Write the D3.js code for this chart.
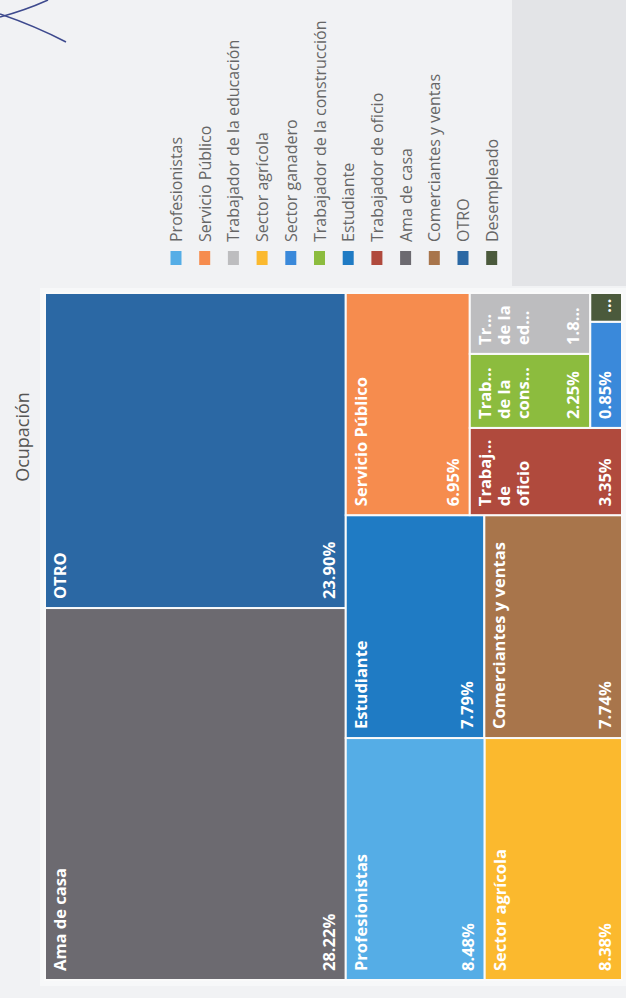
<!DOCTYPE html>
<html><head><meta charset="utf-8">
<script src="https://cdn.jsdelivr.net/npm/d3@7"></script>
<style>
html,body{margin:0;padding:0;background:#f1f2f4;}
svg{display:block;}
</style></head><body>
<svg id="c" width="626" height="998"></svg>
<script>
// ---- data ----
const title = "Ocupación";
const categories = ["Profesionistas","Servicio Público","Trabajador de la educación","Sector agrícola","Sector ganadero","Trabajador de la construcción","Estudiante","Trabajador de oficio","Ama de casa","Comerciantes y ventas","OTRO","Desempleado"];
const values = [8.48, 6.95, 1.85, 8.38, 0.85, 2.25, 7.79, 3.35, 28.22, 7.74, 23.90, 0.23];
const colors = ["#55ade6","#f68c4e","#bdbdbf","#fbb92e","#3a89da","#8cbc3e","#1f7bc4","#b04a3d","#6c6a70","#a8754b","#2b68a4","#4b5a3c"];

// ---- setup ----
const svg = d3.select("#c");
svg.append("rect").attr("x",512).attr("y",0).attr("width",114).attr("height",286).attr("fill","#e3e4e7");
svg.append("rect").attr("x",40).attr("y",288).attr("width",586).attr("height",698).attr("fill","#f7f8f9");
// pen marks on the photographed page
svg.append("path").attr("d","M0,17 Q26,10 48,0").attr("fill","none").attr("stroke","#3e4a8e").attr("stroke-width",1.6);
svg.append("path").attr("d","M0,14 Q35,26 66,42").attr("fill","none").attr("stroke","#3e4a8e").attr("stroke-width",1.6);

// chart drawn in its own frame, rotated a quarter turn like the photo
const W = 998;
const g = svg.append("g").attr("transform", `translate(0,${W}) rotate(-90)`);

const color = d3.scaleOrdinal().domain(categories).range(colors);

// title
g.append("text").attr("x", 561).attr("y", 22)
  .attr("text-anchor","middle").attr("dominant-baseline","central")
  .attr("font-family","'Open Sans', sans-serif").attr("font-size",18).attr("fill","#555")
  .text(title);

// treemap tiling: squarified rows, first row laid along the top
function tile(parent, x0, y0, x1, y1) {
  const nodes = parent.children, n = nodes.length;
  let value = parent.value, i0 = 0, first = true;
  while (i0 < n) {
    const dx = x1 - x0, dy = y1 - y0;
    const horiz = first || dx < dy;
    const side = horiz ? dx : dy, depth = horiz ? dy : dx;
    let sum = 0, best = Infinity, i1 = i0;
    while (i1 < n) {
      const s = sum + nodes[i1].value;
      const t = depth * s / value;
      let worst = 0;
      for (let k = i0; k <= i1; k++) {
        const l = side * nodes[k].value / s;
        worst = Math.max(worst, l / t, t / l);
      }
      if (worst > best) break;
      best = worst; sum = s; i1++;
    }
    const row = {children: nodes.slice(i0, i1), value: sum};
    if (horiz) { const yy = i1 >= n ? y1 : y0 + dy * sum / value; d3.treemapDice(row, x0, y0, x1, yy); y0 = yy; }
    else { const xx = i1 >= n ? x1 : x0 + dx * sum / value; d3.treemapSlice(row, x0, y0, xx, y1); x0 = xx; }
    value -= sum; i0 = i1; first = false;
  }
}

const rows = categories.map((c, i) => ({name: c, value: values[i]}));
const root = d3.hierarchy({children: rows}).sum(d => d.value || 0).sort((a, b) => b.value - a.value);
d3.treemap().size([687, 577]).tile(tile)(root);

const tm = g.append("g").attr("transform","translate(18,45)");
const leaves = root.leaves();
tm.selectAll("rect").data(leaves).join("rect")
  .attr("x", d => d.x0).attr("y", d => d.y0)
  .attr("width", d => d.x1 - d.x0).attr("height", d => d.y1 - d.y0)
  .attr("fill", d => color(d.data.name))
  .attr("stroke", "#fafafa").attr("stroke-width", 2);

// labels
const FS = 16.5, LH = 19, PAD = 9;
const ctx = document.createElement("canvas").getContext("2d");
ctx.font = `bold ${FS}px 'Open Sans'`;
const measure = s => ctx.measureText(s).width;
function fit(s, maxW) {
  if (measure(s) <= maxW) return s;
  for (let k = s.length - 1; k > 0; k--) { const t = s.slice(0, k) + "..."; if (measure(t) <= maxW) return t; }
  return "...";
}
function wrap(name, maxW, maxLines) {
  const words = name.split(" "), lines = [];
  let cur = "";
  words.forEach((w, wi) => {
    const t = cur ? cur + " " + w : w;
    if (measure(t) <= maxW || !cur) cur = t; else { lines.push(cur); cur = w; }
    if (!cur.includes(" ") && measure(cur) > maxW && wi < words.length - 1) { lines.push(cur); cur = ""; }
  });
  if (cur) lines.push(cur);
  let out = lines.map(l => fit(l, maxW));
  if (out.length > maxLines) { out = out.slice(0, maxLines); out[maxLines - 1] = fit(out[maxLines - 1] + "...", maxW); }
  return out;
}
const fmt = v => v.toFixed(2) + "%";

const lab = tm.selectAll("g.lab").data(leaves).join("g").attr("class","lab")
  .attr("font-family","'Open Sans', sans-serif").attr("font-weight","bold").attr("font-size",FS).attr("fill","#fff");
lab.each(function(d) {
  const w = d.x1 - d.x0, maxW = w - 20;
  const sel = d3.select(this);
  const pctY = d.y1 - 11;
  const maxLines = Math.floor((pctY - LH - (d.y0 + 21)) / LH) + 1;
  if (maxLines > 0) {
    wrap(d.data.name, maxW, maxLines).forEach((l, i) => {
      sel.append("text").attr("x", d.x0 + PAD).attr("y", d.y0 + 21 + i * LH).text(l);
    });
  }
  sel.append("text").attr("x", d.x0 + PAD).attr("y", pctY).text(fit(fmt(d.data.value), maxW));
});

// legend
const leg = g.append("g").attr("font-family","'Open Sans', sans-serif").attr("font-size",16).attr("fill","#666");
const ly = d3.scalePoint().domain(categories).range([176, 176 + 28.7 * (categories.length - 1)]);
leg.selectAll("rect").data(categories).join("rect")
  .attr("x", 733).attr("y", d => ly(d) - 5.5).attr("width", 14).attr("height", 11).attr("fill", d => color(d));
leg.selectAll("text").data(categories).join("text")
  .attr("x", 756).attr("y", d => ly(d)).attr("dominant-baseline","central").text(d => d);
</script>
</body></html>
